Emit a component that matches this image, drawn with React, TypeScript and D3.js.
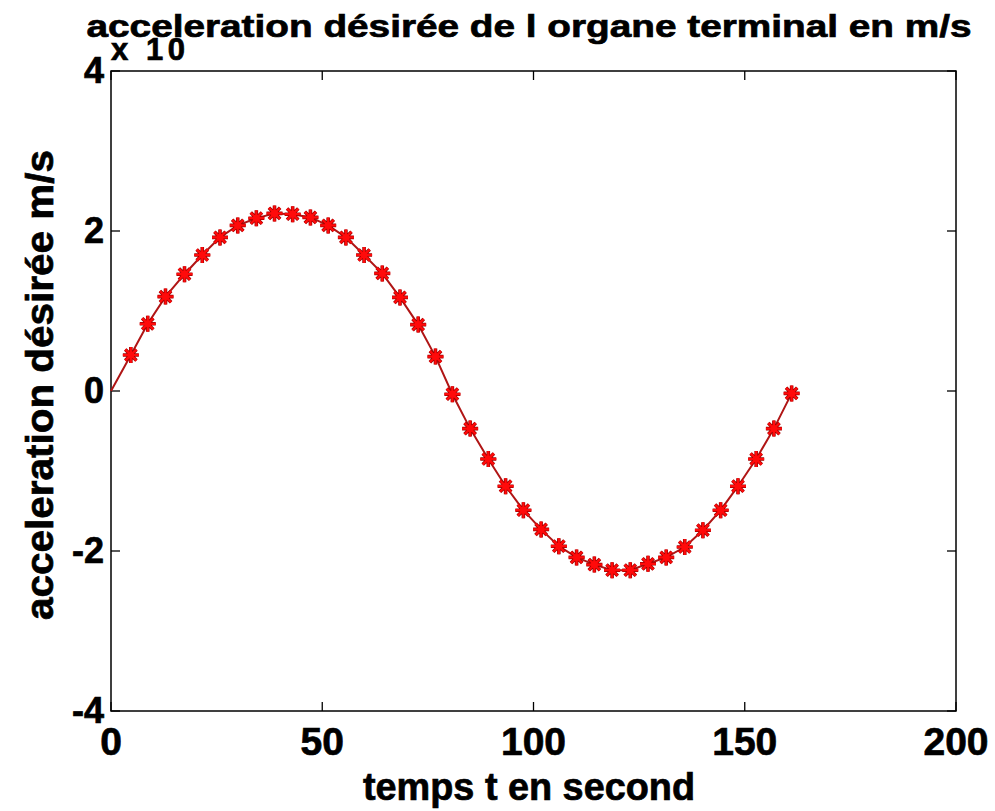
import React from "react";
import * as d3 from "d3";

// time (s) and desired acceleration (x 10^-3 m/s)
const timeValues = [
  0, 4.7, 8.7, 12.9, 17.4, 21.6, 25.8, 30.0, 34.4, 38.7, 43.0, 47.2, 51.4, 55.6,
  59.9, 64.2, 68.4, 72.7, 76.8, 80.8, 85.0, 89.3, 93.4, 97.6, 101.8, 106.0, 110.2,
  114.4, 118.6, 122.9, 127.1, 131.4, 135.8, 140.1, 144.3, 148.4, 152.7, 156.9, 161.1,
];
const accelValues = [
  0, 0.45, 0.84, 1.18, 1.46, 1.7, 1.92, 2.07, 2.16, 2.22, 2.21, 2.17, 2.07, 1.92,
  1.7, 1.47, 1.17, 0.83, 0.43, -0.04, -0.47, -0.85, -1.19, -1.49, -1.73, -1.94,
  -2.08, -2.17, -2.24, -2.24, -2.16, -2.08, -1.95, -1.74, -1.49, -1.19, -0.85,
  -0.47, -0.03,
];
const xTicks = [0, 50, 100, 150, 200];
const yTicks = [-4, -2, 0, 2, 4];

const titleText = "acceleration désirée de l organe terminal en m/s";
const xLabel = "temps t en second";
const yLabel = "acceleration désirée m/s";
const exponentText = "x 10";

const W = 995;
const H = 811;
const L = 111, R = 956, T = 71, B = 711;

export default function App() {
  const x = d3.scaleLinear().domain([0, 200]).range([L, R]);
  const y = d3.scaleLinear().domain([-4, 4]).range([B, T]);
  const pts = timeValues.map((t, i) => [t, accelValues[i]] as [number, number]);
  const line = d3
    .line<[number, number]>()
    .x((d) => x(d[0]))
    .y((d) => y(d[1]))(pts) as string;
  const font = "'Liberation Sans', Arial, sans-serif";
  const s = 8;
  const k = s * 0.7;
  const star = `M${-s},0L${s},0M0,${-s}L0,${s}M${-k},${-k}L${k},${k}M${-k},${k}L${k},${-k}`;
  const tick = 9;
  const heavy = { stroke: "#000", strokeWidth: 0.7 };
  return (
    <div style={{ position: "absolute", left: 0, top: 0 }}>
      <svg width={W} height={H} style={{ display: "block", background: "#fff" }}>
        <rect x={0} y={0} width={W} height={H} fill="#fff" />
        {/* axes box */}
        <rect x={L} y={T} width={R - L} height={B - T} fill="#fff" stroke="#000" strokeWidth={1.5} />
        {/* x ticks */}
        {xTicks.map((t) => (
          <g key={"xt" + t}>
            <line x1={x(t)} x2={x(t)} y1={B} y2={B - tick} stroke="#000" strokeWidth={1.3} />
            <line x1={x(t)} x2={x(t)} y1={T} y2={T + tick} stroke="#000" strokeWidth={1.3} />
            <text
              x={x(t)}
              y={755}
              textAnchor="middle"
              fontFamily={font}
              fontWeight="bold"
              fontSize={39}
              fill="#000"
              {...heavy}
            >
              {t}
            </text>
          </g>
        ))}
        {/* y ticks */}
        {yTicks.map((t) => (
          <g key={"yt" + t}>
            <line x1={L} x2={L + tick} y1={y(t)} y2={y(t)} stroke="#000" strokeWidth={1.3} />
            <line x1={R} x2={R - tick} y1={y(t)} y2={y(t)} stroke="#000" strokeWidth={1.3} />
            <text
              x={104}
              y={y(t) + 12}
              textAnchor="end"
              fontFamily={font}
              fontWeight="bold"
              fontSize={36}
              fill="#000"
              {...heavy}
            >
              {t < 0 ? "-" + Math.abs(t) : t}
            </text>
          </g>
        ))}
        {/* data line */}
        <path d={line} fill="none" stroke="#b01515" strokeWidth={2} />
        {pts.slice(1).map((d, i) => (
          <g key={"m" + i} transform={`translate(${x(d[0])},${y(d[1])})`}>
            <path d={star} stroke="#a00000" strokeWidth={3.6} fill="none" />
            <path d={star} stroke="#ff0a0a" strokeWidth={2.2} fill="none" />
            <circle r={3.5} fill="#ff0a0a" />
          </g>
        ))}
        {/* exponent */}
        <text
          x={111}
          y={60}
          fontFamily={font}
          fontWeight="bold"
          fontSize={31}
          textLength={74}
          lengthAdjust="spacing"
          fill="#000"
          {...heavy}
        >
          {exponentText}
        </text>
        {/* title */}
        <text
          x={529}
          y={37}
          textAnchor="middle"
          fontFamily={font}
          fontWeight="bold"
          fontSize={32}
          textLength={885}
          lengthAdjust="spacingAndGlyphs"
          fill="#000"
          {...heavy}
        >
          {titleText}
        </text>
        {/* x label */}
        <text
          x={529}
          y={800}
          textAnchor="middle"
          fontFamily={font}
          fontWeight="bold"
          fontSize={38}
          textLength={332}
          lengthAdjust="spacingAndGlyphs"
          fill="#000"
          {...heavy}
        >
          {xLabel}
        </text>
        {/* y label */}
        <text
          transform={`translate(53,385) rotate(-90)`}
          textAnchor="middle"
          fontFamily={font}
          fontWeight="bold"
          fontSize={38}
          textLength={470}
          lengthAdjust="spacingAndGlyphs"
          fill="#000"
          {...heavy}
        >
          {yLabel}
        </text>
      </svg>
    </div>
  );
}
